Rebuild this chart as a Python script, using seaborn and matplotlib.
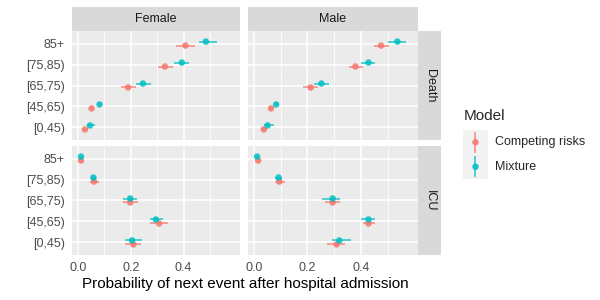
import numpy as np
import pandas as pd
import matplotlib
matplotlib.use("Agg")
import matplotlib.pyplot as plt
import seaborn as sns
from matplotlib.lines import Line2D

# age groups, bottom to top
ages = ["[0,45)", "[45,65)", "[65,75)", "[75,85)", "85+"]
sexes = ["Female", "Male"]
events = ["Death", "ICU"]
models = ["Competing risks", "Mixture"]

# estimates (per age group, bottom to top) and intervals
death_f_cr = [0.027, 0.052, 0.190, 0.329, 0.407]
death_f_cr_lo = [0.016, 0.046, 0.165, 0.304, 0.372]
death_f_cr_hi = [0.039, 0.058, 0.220, 0.360, 0.443]
death_f_mx = [0.046, 0.082, 0.246, 0.393, 0.484]
death_f_mx_lo = [0.033, 0.076, 0.220, 0.363, 0.459]
death_f_mx_hi = [0.066, 0.088, 0.277, 0.422, 0.525]

death_m_cr = [0.037, 0.064, 0.212, 0.379, 0.475]
death_m_cr_lo = [0.025, 0.058, 0.185, 0.355, 0.450]
death_m_cr_hi = [0.049, 0.070, 0.240, 0.407, 0.505]
death_m_mx = [0.051, 0.083, 0.252, 0.428, 0.536]
death_m_mx_lo = [0.037, 0.077, 0.224, 0.401, 0.501]
death_m_mx_hi = [0.076, 0.089, 0.279, 0.454, 0.570]

icu_f_cr = [0.210, 0.307, 0.198, 0.061, 0.012]
icu_f_cr_lo = [0.177, 0.274, 0.171, 0.047, 0.009]
icu_f_cr_hi = [0.238, 0.339, 0.226, 0.081, 0.015]
icu_f_mx = [0.205, 0.295, 0.198, 0.059, 0.012]
icu_f_mx_lo = [0.177, 0.271, 0.171, 0.050, 0.009]
icu_f_mx_hi = [0.242, 0.323, 0.222, 0.068, 0.015]

icu_m_cr = [0.309, 0.428, 0.294, 0.095, 0.016]
icu_m_cr_lo = [0.273, 0.406, 0.264, 0.077, 0.012]
icu_m_cr_hi = [0.340, 0.452, 0.322, 0.115, 0.020]
icu_m_mx = [0.319, 0.428, 0.294, 0.092, 0.012]
icu_m_mx_lo = [0.291, 0.401, 0.254, 0.080, 0.009]
icu_m_mx_hi = [0.364, 0.454, 0.322, 0.104, 0.015]

series = {
    ("Death", "Female", "Competing risks"): (death_f_cr, death_f_cr_lo, death_f_cr_hi),
    ("Death", "Female", "Mixture"): (death_f_mx, death_f_mx_lo, death_f_mx_hi),
    ("Death", "Male", "Competing risks"): (death_m_cr, death_m_cr_lo, death_m_cr_hi),
    ("Death", "Male", "Mixture"): (death_m_mx, death_m_mx_lo, death_m_mx_hi),
    ("ICU", "Female", "Competing risks"): (icu_f_cr, icu_f_cr_lo, icu_f_cr_hi),
    ("ICU", "Female", "Mixture"): (icu_f_mx, icu_f_mx_lo, icu_f_mx_hi),
    ("ICU", "Male", "Competing risks"): (icu_m_cr, icu_m_cr_lo, icu_m_cr_hi),
    ("ICU", "Male", "Mixture"): (icu_m_mx, icu_m_mx_lo, icu_m_mx_hi),
}

rows = []
for (ev, sx, md), (est, lo, hi) in series.items():
    for a, e, l, h in zip(ages, est, lo, hi):
        rows.append(dict(event=ev, sex=sx, model=md, age=a, est=e, lo=l, hi=h))
df = pd.DataFrame(rows)
dodge = {"Competing risks": -0.095, "Mixture": 0.095}
df["ypos"] = df["age"].map({a: i for i, a in enumerate(ages)}) + df["model"].map(dodge)

sns.set_style("white")
plt.rcParams["font.family"] = ["Liberation Sans", "DejaVu Sans"]
palette = {"Competing risks": "#F8766D", "Mixture": "#00BFC4"}

W, H = 600, 300
fig = plt.figure(figsize=(6, 3), dpi=100)


def box(x0, y0, x1, y1):
    return [x0 / W, 1 - y1 / H, (x1 - x0) / W, (y1 - y0) / H]


cols = [(72, 240), (248, 418)]
rws = [(31, 140), (146, 255)]
xlim = (-0.022, 0.613)
pt_size = 22

for ri, ev in enumerate(events):
    for ci, sx in enumerate(sexes):
        ax = fig.add_axes(box(cols[ci][0], rws[ri][0], cols[ci][1], rws[ri][1]))
        ax.set_facecolor("#EBEBEB")
        for s in ax.spines.values():
            s.set_visible(False)
        for v in [0.1, 0.3, 0.5]:
            ax.axvline(v, color="white", lw=0.55, zorder=0)
        for v in [0.0, 0.2, 0.4]:
            ax.axvline(v, color="white", lw=1.1, zorder=0)
        for i in range(len(ages)):
            ax.axhline(i, color="white", lw=1.1, zorder=0)
        sub = df[(df.event == ev) & (df.sex == sx)]
        for md in models:
            d = sub[sub.model == md]
            ax.hlines(d.ypos, d.lo, d.hi, color=palette[md], lw=1.1, alpha=0.85, zorder=2)
        sns.scatterplot(data=sub, x="est", y="ypos", hue="model", palette=palette,
                        s=pt_size, alpha=0.85, edgecolor="none", legend=False, ax=ax, zorder=3)
        ax.set_xlim(*xlim)
        ax.set_ylim(-0.6, 4.6)
        ax.set_xlabel("")
        ax.set_ylabel("")
        ax.set_xticks([0, 0.2, 0.4])
        ax.set_yticks(range(len(ages)))
        ax.tick_params(axis="both", length=3, width=0.8, color="#333333",
                       labelsize=9, labelcolor="#4D4D4D", pad=2)
        if ci == 0:
            ax.set_yticklabels(ages)
        else:
            ax.set_yticklabels([])
            ax.tick_params(axis="y", length=0)
        if ri == 1:
            ax.set_xticklabels(["0.0", "0.2", "0.4"])
        else:
            ax.set_xticklabels([])
            ax.tick_params(axis="x", length=0)

# strips
for ci, sx in enumerate(sexes):
    sax = fig.add_axes(box(cols[ci][0], 7, cols[ci][1], 31))
    sax.set_facecolor("#D9D9D9")
    sax.set_xticks([]); sax.set_yticks([])
    for s in sax.spines.values():
        s.set_visible(False)
    sax.text(0.5, 0.5, sx, ha="center", va="center", fontsize=9, color="#1A1A1A",
             transform=sax.transAxes)
for ri, ev in enumerate(events):
    sax = fig.add_axes(box(418, rws[ri][0], 441, rws[ri][1]))
    sax.set_facecolor("#D9D9D9")
    sax.set_xticks([]); sax.set_yticks([])
    for s in sax.spines.values():
        s.set_visible(False)
    sax.text(0.5, 0.5, ev, ha="center", va="center", fontsize=9, color="#1A1A1A",
             rotation=-90, transform=sax.transAxes)

fig.text(245 / W, 1 - 284 / H, "Probability of next event after hospital admission",
         ha="center", va="center", fontsize=11, color="black")

# legend
fig.text(464 / W, 1 - 116 / H, "Model", ha="left", va="center", fontsize=11)
lax = fig.add_axes(box(463, 130, 488, 179))
lax.set_facecolor("#F2F2F2")
lax.set_xlim(0, 1); lax.set_ylim(0, 2)
lax.set_xticks([]); lax.set_yticks([])
for s in lax.spines.values():
    s.set_visible(False)
for k, m in enumerate(models):
    yc = 1.5 - k
    lax.vlines(0.5, yc - 0.42, yc + 0.42, color=palette[m], lw=1.1, alpha=0.85)
    lax.scatter([0.5], [yc], s=pt_size, color=palette[m], alpha=0.85, edgecolor="none")
    fig.text(495 / W, 1 - (142 + 25 * k) / H, m, ha="left", va="center", fontsize=9)

fig.savefig("out.png", dpi=100)
